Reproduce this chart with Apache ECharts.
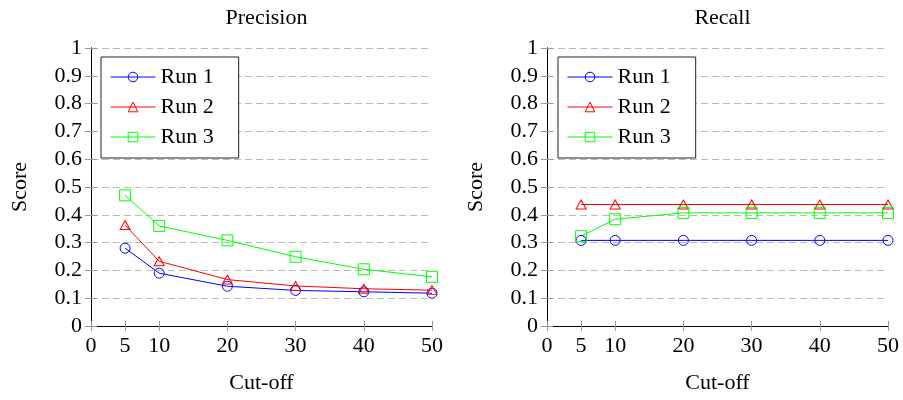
<!DOCTYPE html>
<html>
<head>
<meta charset="utf-8">
<script src="https://cdn.jsdelivr.net/npm/echarts@6/dist/echarts.min.js"></script>
<style>
  html, body { margin: 0; padding: 0; background: #fff; }
  #chart { width: 903px; height: 400px; }
</style>
</head>
<body>
<div id="chart"></div>
<script>
const cutoffs = [5, 10, 20, 30, 40, 50];
const xTicks = [0, 5, 10, 20, 30, 40, 50];

// Precision
const precRun1 = [0.28, 0.19, 0.143, 0.128, 0.123, 0.118];
const precRun2 = [0.363, 0.233, 0.167, 0.144, 0.134, 0.129];
const precRun3 = [0.47, 0.36, 0.308, 0.249, 0.204, 0.177];

// Recall
const recRun1 = [0.308, 0.308, 0.308, 0.308, 0.308, 0.308];
const recRun2 = [0.437, 0.437, 0.437, 0.437, 0.437, 0.437];
const recRun3 = [0.323, 0.384, 0.407, 0.407, 0.407, 0.407];

const titles = ['Precision', 'Recall'];
const runNames = ['Run 1', 'Run 2', 'Run 3'];

const FONT = 'Liberation Serif';
const FS = 22;
const colors = ['#0000ff', '#ff0000', '#00ff00'];
const symbols = ['circle', 'triangle', 'rect'];
const symbolSizes = [10, [10, 9], 11];

// plot boxes in pixels
const boxes = [
  { left: 91, top: 48, width: 341, height: 278 },
  { left: 547, top: 48, width: 341, height: 278 }
];

const chart = echarts.init(document.getElementById('chart'));

const grid = boxes.map(b => ({ left: b.left, top: b.top, width: b.width, height: b.height, containLabel: false }));

const xAxis = [];
const yAxis = [];
boxes.forEach((b, i) => {
  // bottom x axis
  xAxis.push({
    type: 'value', gridIndex: i, min: 0, max: 50,
    name: 'Cut-off', nameLocation: 'middle', nameGap: 46,
    nameTextStyle: { fontFamily: FONT, fontSize: FS, color: '#000' },
    axisLine: { show: true, lineStyle: { color: '#000', width: 1 } },
    axisTick: { show: true, inside: true, length: 5, customValues: xTicks, lineStyle: { color: '#999' } },
    axisLabel: { customValues: xTicks, fontFamily: FONT, fontSize: FS, color: '#000', margin: 9 },
    splitLine: { show: false }
  });
  // mirrored top axis
  xAxis.push({
    type: 'value', gridIndex: i, min: 0, max: 50, position: 'top',
    axisLine: { show: true, lineStyle: { color: '#000', width: 1 } },
    axisTick: { show: true, inside: true, length: 5, customValues: xTicks, lineStyle: { color: '#999' } },
    axisLabel: { show: false },
    splitLine: { show: false }
  });
  yAxis.push({
    type: 'value', gridIndex: i, min: 0, max: 1, interval: 0.1,
    name: 'Score', nameLocation: 'middle', nameGap: 60, nameRotate: 90,
    nameTextStyle: { fontFamily: FONT, fontSize: FS, color: '#000' },
    axisLine: { show: true, lineStyle: { color: '#000', width: 1 } },
    axisTick: { show: true, inside: true, length: 6, lineStyle: { color: '#999' } },
    axisLabel: { fontFamily: FONT, fontSize: FS, color: '#000', margin: 9 },
    splitLine: { show: true, lineStyle: { color: '#bbb', type: [7, 4], width: 1 } }
  });
  yAxis.push({
    type: 'value', gridIndex: i, min: 0, max: 1, interval: 0.1, position: 'right',
    axisLine: { show: true, lineStyle: { color: '#000', width: 1 } },
    axisTick: { show: true, inside: true, length: 6, lineStyle: { color: '#999' } },
    axisLabel: { show: false },
    splitLine: { show: false }
  });
});

function mkSeries(name, k, vals, i) {
  return {
    name: name, type: 'line',
    xAxisIndex: i * 2, yAxisIndex: i * 2,
    data: cutoffs.map((c, j) => [c, vals[j]]),
    symbol: symbols[k], symbolSize: symbolSizes[k],
    showAllSymbol: true,
    lineStyle: { color: colors[k], width: 1 },
    itemStyle: { color: 'rgba(0,0,0,0)', borderColor: colors[k], borderWidth: 1 },
    emphasis: { disabled: true },
    animation: false
  };
}

const series = [
  mkSeries(runNames[0], 0, precRun1, 0),
  mkSeries(runNames[1], 1, precRun2, 0),
  mkSeries(runNames[2], 2, precRun3, 0),
  mkSeries(runNames[0], 0, recRun1, 1),
  mkSeries(runNames[1], 1, recRun2, 1),
  mkSeries(runNames[2], 2, recRun3, 1)
];

const legendLefts = [101, 558];
const legend = legendLefts.map(l => ({
  data: runNames,
  orient: 'vertical',
  left: l, top: 57,
  padding: [9, 25, 10, 9],
  itemWidth: 45, itemHeight: 12, itemGap: 8, itemTextGap: 7,
  lineStyle: { width: 1 },
  itemStyle: { borderWidth: 1 },
  backgroundColor: '#fff',
  borderColor: '#222', borderWidth: 1, borderRadius: 0,
  textStyle: { fontFamily: FONT, fontSize: FS, color: '#000', lineHeight: 22 },
  selectedMode: false
}));

chart.setOption({
  animation: false,
  title: titles.map((t, i) => ({
    text: t,
    left: boxes[i].left + boxes[i].width / 2,
    top: 2,
    textAlign: 'center',
    textStyle: { fontFamily: FONT, fontSize: FS, fontWeight: 'normal', color: '#000' }
  })),
  grid: grid,
  xAxis: xAxis,
  yAxis: yAxis,
  legend: legend,
  series: series
});
</script>
</body>
</html>
